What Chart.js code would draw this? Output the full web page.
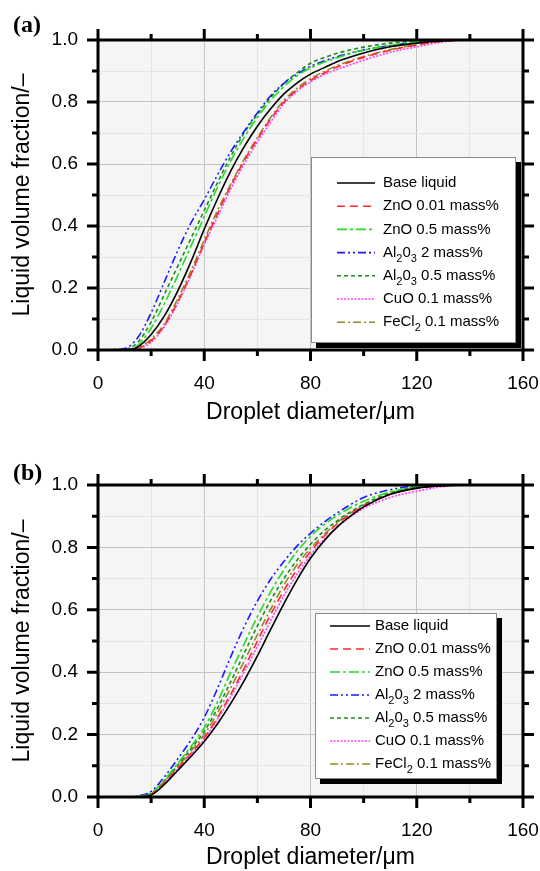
<!DOCTYPE html>
<html>
<head>
<meta charset="utf-8">
<script src="https://cdn.jsdelivr.net/npm/chart.js@4.4.1/dist/chart.umd.min.js"></script>
<style>
  body { margin: 0; background: #fff; width: 540px; height: 871px; overflow: hidden; }
  .panel { position: absolute; left: 0; width: 540px; }
  #panelA { top: 0; }
  #panelB { top: 435px; }
</style>
</head>
<body>
<div class="panel" id="panelA"><canvas id="chartA" width="540" height="435"></canvas></div>
<div class="panel" id="panelB"><canvas id="chartB" width="540" height="436"></canvas></div>

<script>
// droplet diameter (µm) sampling points shared by both panels
const diameters = [0, 10, 15, 20, 25, 30, 35, 40, 45, 50, 55, 60, 65, 70, 75, 80, 85, 90, 95, 100, 110, 120, 130, 140, 160];

const legendNames = ["Base liquid", "ZnO 0.01 mass%", "ZnO 0.5 mass%", "Al_20_3 2 mass%", "Al_20_3 0.5 mass%", "CuO 0.1 mass%", "FeCl_2 0.1 mass%"];

const xTicks = [0, 40, 80, 120, 160];
const yTicks = [0.0, 0.2, 0.4, 0.6, 0.8, 1.0];

// panel (a)
const baseA  = [0, 0, 0.01, 0.05, 0.11, 0.19, 0.285, 0.39, 0.488, 0.578, 0.655, 0.722, 0.778, 0.826, 0.862, 0.89, 0.91, 0.93, 0.945, 0.958, 0.978, 0.99, 0.998, 1, 1];
const zno001A = [0, 0, 0.005, 0.03, 0.08, 0.155, 0.245, 0.345, 0.44, 0.53, 0.61, 0.68, 0.745, 0.8, 0.84, 0.87, 0.893, 0.913, 0.93, 0.944, 0.967, 0.984, 0.996, 1, 1];
const zno05A  = [0, 0, 0.015, 0.07, 0.15, 0.24, 0.335, 0.43, 0.525, 0.61, 0.685, 0.75, 0.805, 0.85, 0.885, 0.91, 0.928, 0.943, 0.956, 0.967, 0.983, 0.994, 1, 1, 1];
const al2A    = [0, 0.005, 0.04, 0.12, 0.22, 0.32, 0.41, 0.485, 0.565, 0.64, 0.705, 0.765, 0.82, 0.86, 0.89, 0.915, 0.932, 0.946, 0.958, 0.968, 0.982, 0.993, 0.999, 1, 1];
const al05A   = [0, 0.002, 0.025, 0.09, 0.18, 0.27, 0.36, 0.45, 0.54, 0.625, 0.7, 0.76, 0.815, 0.86, 0.895, 0.925, 0.943, 0.957, 0.968, 0.977, 0.99, 0.997, 1, 1, 1];
const cuoA    = [0, 0, 0.004, 0.025, 0.075, 0.15, 0.24, 0.34, 0.43, 0.52, 0.6, 0.67, 0.735, 0.795, 0.835, 0.865, 0.888, 0.905, 0.92, 0.935, 0.96, 0.978, 0.994, 1, 1];
const fecl2A  = [0, 0, 0.006, 0.035, 0.085, 0.165, 0.255, 0.355, 0.45, 0.535, 0.615, 0.685, 0.75, 0.805, 0.845, 0.875, 0.898, 0.917, 0.933, 0.947, 0.969, 0.985, 0.997, 1, 1];

// panel (b)
const baseB   = [0, 0, 0, 0.006, 0.04, 0.085, 0.13, 0.178, 0.235, 0.3, 0.372, 0.452, 0.537, 0.62, 0.697, 0.765, 0.82, 0.865, 0.9, 0.93, 0.97, 0.99, 0.998, 1, 1];
const zno001B = [0, 0, 0, 0.008, 0.045, 0.092, 0.14, 0.19, 0.255, 0.33, 0.412, 0.5, 0.585, 0.662, 0.73, 0.787, 0.835, 0.875, 0.907, 0.933, 0.97, 0.99, 0.998, 1, 1];
const zno05B  = [0, 0, 0.002, 0.013, 0.055, 0.108, 0.162, 0.222, 0.305, 0.4, 0.49, 0.578, 0.658, 0.728, 0.788, 0.835, 0.872, 0.902, 0.927, 0.948, 0.978, 0.994, 1, 1, 1];
const al2B    = [0, 0, 0.003, 0.018, 0.065, 0.122, 0.183, 0.255, 0.348, 0.45, 0.545, 0.628, 0.698, 0.755, 0.805, 0.845, 0.88, 0.91, 0.937, 0.96, 0.985, 0.997, 1, 1, 1];
const al05B   = [0, 0, 0.002, 0.012, 0.052, 0.102, 0.155, 0.21, 0.285, 0.37, 0.46, 0.548, 0.63, 0.7, 0.76, 0.81, 0.852, 0.885, 0.914, 0.938, 0.975, 0.993, 1, 1, 1];
const cuoB    = [0, 0, 0, 0.008, 0.044, 0.09, 0.136, 0.185, 0.25, 0.322, 0.4, 0.482, 0.565, 0.645, 0.715, 0.775, 0.825, 0.865, 0.898, 0.925, 0.96, 0.98, 0.995, 1, 1];
const fecl2B  = [0, 0, 0.001, 0.01, 0.05, 0.098, 0.147, 0.2, 0.27, 0.35, 0.435, 0.52, 0.602, 0.68, 0.745, 0.797, 0.84, 0.88, 0.91, 0.935, 0.97, 0.99, 0.998, 1, 1];

const lineStyles = [
  { color: "#000000", dash: [] },
  { color: "#ff2a2a", dash: [8, 5] },
  { color: "#22dd22", dash: [10, 3, 3, 3] },
  { color: "#1a1aff", dash: [8, 3, 2, 3, 2, 3] },
  { color: "#1c8c1c", dash: [4, 3] },
  { color: "#ff3cff", dash: [2, 1.5] },
  { color: "#8f8a2a", dash: [8, 3, 2, 3] },
];

function makeDatasets(series) {
  return series.map((vals, i) => ({
    label: legendNames[i].replace(/_/g, ""),
    data: diameters.map((d, k) => ({ x: d, y: vals[k] })),
    borderColor: lineStyles[i].color,
    borderDash: lineStyles[i].dash,
    borderWidth: 1.6,
    pointRadius: 0,
    fill: false,
    cubicInterpolationMode: "monotone",
  }));
}

// text with one-character subscripts written as _x
function drawRichText(ctx, text, x, y) {
  const parts = text.split(/(_.)/);
  let cx = x;
  ctx.textBaseline = "middle";
  ctx.textAlign = "left";
  parts.forEach((p) => {
    if (!p) return;
    if (p[0] === "_") {
      ctx.font = '11px "Liberation Sans", Arial, sans-serif';
      ctx.fillText(p[1], cx, y + 6);
      cx += ctx.measureText(p[1]).width;
    } else {
      ctx.font = '15px "Liberation Sans", Arial, sans-serif';
      ctx.fillText(p, cx, y);
      cx += ctx.measureText(p).width;
    }
  });
}

const panelDecor = {
  id: "panelDecor",
  beforeDraw(chart) {
    const a = chart.chartArea;
    const ctx = chart.ctx;
    ctx.save();
    ctx.fillStyle = "#f5f5f5";
    ctx.fillRect(a.left, a.top, a.right - a.left, a.bottom - a.top);
    ctx.restore();
  },
  afterDatasetsDraw(chart, args, opts) {
    const box = opts.legend;
    const ctx = chart.ctx;
    ctx.save();
    ctx.fillStyle = "#000";
    ctx.fillRect(box.x + 5, box.y + 5, box.w, box.h);
    ctx.fillStyle = "#fff";
    ctx.fillRect(box.x, box.y, box.w, box.h);
    ctx.strokeStyle = "#8a8a8a";
    ctx.lineWidth = 1;
    ctx.strokeRect(box.x + 0.5, box.y + 0.5, box.w - 1, box.h - 1);
    chart.data.datasets.forEach((ds, i) => {
      const y = box.row0 + i * box.step;
      ctx.strokeStyle = ds.borderColor;
      ctx.lineWidth = ds.borderWidth;
      ctx.setLineDash(ds.borderDash);
      ctx.beginPath();
      ctx.moveTo(box.lineX0, y);
      ctx.lineTo(box.lineX1, y);
      ctx.stroke();
      ctx.setLineDash([]);
      ctx.fillStyle = "#000";
      drawRichText(ctx, legendNames[i], box.textX, y);
    });
    ctx.restore();
  },
  afterDraw(chart, args, opts) {
    const ctx = chart.ctx;
    const a = chart.chartArea;
    const xs = chart.scales.x;
    const ys = chart.scales.y;
    ctx.save();
    ctx.strokeStyle = "#000";
    ctx.lineWidth = 3;
    ctx.lineCap = "butt";
    ctx.strokeRect(a.left, a.top, a.right - a.left, a.bottom - a.top);

    // major and minor tick marks, pointing outwards on all four sides
    for (let v = 0; v <= 160; v += 20) {
      const px = xs.getPixelForValue(v);
      const len = v % 40 === 0 ? 11 : 6;
      ctx.beginPath();
      ctx.moveTo(px, a.bottom);
      ctx.lineTo(px, a.bottom + len);
      ctx.moveTo(px, a.top);
      ctx.lineTo(px, a.top - len);
      ctx.stroke();
    }
    for (let k = 0; k <= 10; k++) {
      const py = ys.getPixelForValue(k / 10);
      const len = k % 2 === 0 ? 11 : 6;
      ctx.beginPath();
      ctx.moveTo(a.left, py);
      ctx.lineTo(a.left - len, py);
      ctx.moveTo(a.right, py);
      ctx.lineTo(a.right + len, py);
      ctx.stroke();
    }

    ctx.fillStyle = "#000";
    ctx.font = 'bold 24px "Liberation Serif", "Times New Roman", serif';
    ctx.textAlign = "left";
    ctx.textBaseline = "alphabetic";
    ctx.fillText(opts.letter, 13, opts.letterY);
    ctx.restore();
  },
};

function makeChart(canvasId, series, cfg) {
  return new Chart(document.getElementById(canvasId), {
    type: "line",
    data: { datasets: makeDatasets(series) },
    options: {
      responsive: false,
      animation: false,
      layout: { padding: { left: 0, right: 17, top: cfg.top, bottom: 0 } },
      plugins: {
        legend: { display: false },
        tooltip: { enabled: false },
        panelDecor: { legend: cfg.legend, letter: cfg.letter, letterY: cfg.letterY },
      },
      scales: {
        x: {
          type: "linear",
          min: 0,
          max: 160,
          afterFit: (scale) => {
            scale.height = cfg.xHeight;
            scale.paddingLeft = 0;
            scale.paddingRight = 0;
          },
          ticks: {
            stepSize: 20,
            autoSkip: false,
            maxRotation: 0,
            padding: 22,
            color: "#000",
            font: { family: '"Liberation Sans", Arial, sans-serif', size: 19 },
            callback: (v) => (xTicks.includes(v) ? String(v) : ""),
          },
          grid: {
            drawTicks: false,
            color: (c) => (c.tick && xTicks.includes(c.tick.value) ? "#c4c4c4" : "#e4e4e4"),
          },
          border: { display: false },
          title: {
            display: true,
            text: "Droplet diameter/\u03bcm",
            color: "#000",
            padding: { top: 0, bottom: cfg.xTitlePad },
            font: { family: '"Liberation Sans", Arial, sans-serif', size: 23, weight: "normal" },
          },
        },
        y: {
          min: 0,
          max: 1,
          afterFit: (scale) => {
            scale.width = 98;
            scale.paddingTop = 0;
            scale.paddingBottom = 0;
          },
          ticks: {
            stepSize: 0.1,
            autoSkip: false,
            padding: 20,
            color: "#000",
            font: { family: '"Liberation Sans", Arial, sans-serif', size: 19 },
            callback: (v) => {
              const t = yTicks.find((y) => Math.abs(y - v) < 1e-6);
              return t === undefined ? "" : t.toFixed(1);
            },
          },
          grid: {
            drawTicks: false,
            color: (c) => (c.tick && yTicks.some((y) => Math.abs(y - c.tick.value) < 1e-6) ? "#c4c4c4" : "#e4e4e4"),
          },
          border: { display: false },
          title: {
            display: true,
            text: "Liquid volume fraction/\u2013",
            color: "#000",
            padding: { top: 9, bottom: 0 },
            font: { family: '"Liberation Sans", Arial, sans-serif', size: 23, weight: "normal" },
          },
        },
      },
    },
    plugins: [panelDecor],
  });
}

makeChart("chartA", [baseA, zno001A, zno05A, al2A, al05A, cuoA, fecl2A], {
  top: 40,
  xHeight: 85,
  xTitlePad: 9,
  letter: "(a)",
  letterY: 32,
  legend: { x: 311, y: 157, w: 205, h: 186, row0: 183, step: 23.2, lineX0: 337, lineX1: 375, textX: 383 },
});

makeChart("chartB", [baseB, zno001B, zno05B, al2B, al05B, cuoB, fecl2B], {
  top: 50,
  xHeight: 74,
  xTitlePad: 0,
  letter: "(b)",
  letterY: 45,
  legend: { x: 315, y: 178, w: 182, h: 166, row0: 191, step: 23, lineX0: 330, lineX1: 370, textX: 375 },
});
</script>
</body>
</html>
